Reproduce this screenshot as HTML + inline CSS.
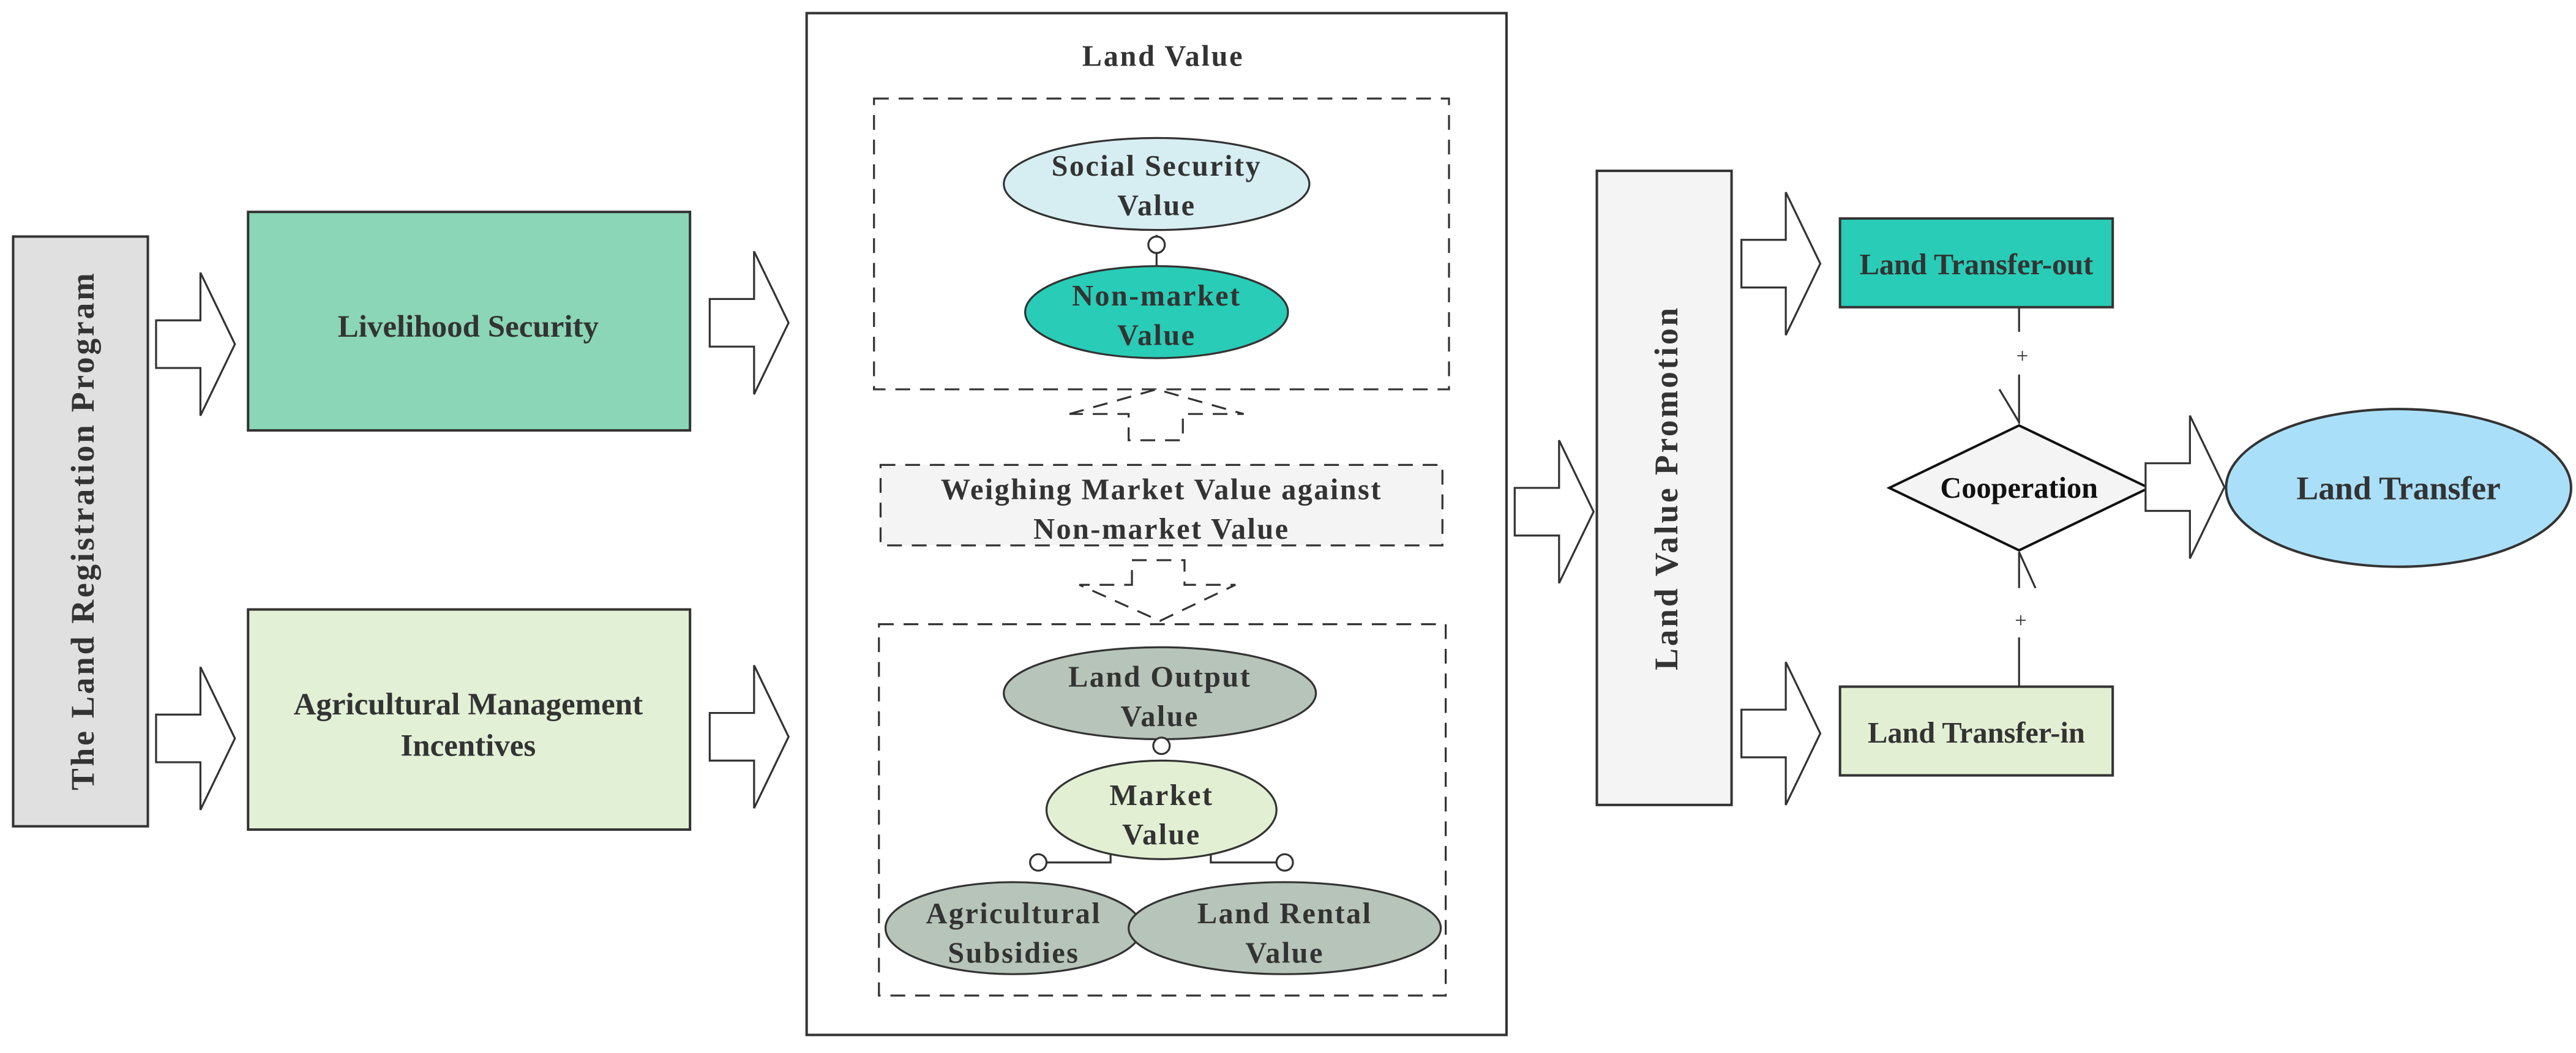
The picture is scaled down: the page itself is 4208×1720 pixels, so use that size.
<!DOCTYPE html>
<html><head><style>html,body{margin:0;padding:0;background:#fff}svg{display:block}</style></head>
<body>
<svg width="4208" height="1720" viewBox="0 0 1568 641" preserveAspectRatio="none" xmlns="http://www.w3.org/2000/svg" font-family="'Liberation Serif', serif" font-weight="bold" fill="#333">
<defs>
<g id="arr"><path d="M0,29 H27 V0 L48,43.5 L27,87 V58 H0 Z" fill="#fff" stroke="#333" stroke-width="1.2"/></g>
</defs>
<rect width="1568" height="641" fill="#fff"/>
<rect x="8" y="144" width="82" height="359" fill="#e0e0e0" stroke="#333" stroke-width="1.5"/>
<text transform="translate(57,323) rotate(-90)" text-anchor="middle" font-size="20" letter-spacing="1.4" fill="#333">The Land  Registration Program</text>
<use href="#arr" x="95" y="166"/>
<use href="#arr" x="95" y="406"/>
<rect x="151" y="129" width="269" height="133" fill="#8ad6b6" stroke="#333" stroke-width="1.5"/>
<text x="285" y="205" text-anchor="middle" font-size="19">Livelihood Security</text>
<rect x="151" y="371" width="269" height="134" fill="#e2f0d6" stroke="#333" stroke-width="1.5"/>
<text x="285" y="435" text-anchor="middle" font-size="19">Agricultural Management</text>
<text x="285" y="460" text-anchor="middle" font-size="19">Incentives</text>
<use href="#arr" x="432" y="153"/>
<use href="#arr" x="432" y="405"/>
<rect x="491" y="8" width="426" height="622" fill="#fff" stroke="#333" stroke-width="1.5"/>
<text x="708" y="40" text-anchor="middle" font-size="18" letter-spacing="1">Land Value</text>
<rect x="532" y="60" width="350" height="177" fill="none" stroke="#333" stroke-width="1.2" stroke-dasharray="9,6"/>
<ellipse cx="704" cy="112" rx="93" ry="28" fill="#d6eef2" stroke="#333" stroke-width="1.2"/>
<text x="704" y="107" text-anchor="middle" font-size="18" letter-spacing="0.9">Social Security</text>
<text x="704" y="131" text-anchor="middle" font-size="18" letter-spacing="0.9">Value</text>
<line x1="704" y1="143" x2="704" y2="162" stroke="#333" stroke-width="1.2"/>
<circle cx="704" cy="149" r="5" fill="#fff" stroke="#333" stroke-width="1.2"/>
<ellipse cx="704" cy="190" rx="80" ry="28" fill="#29ccb6" stroke="#333" stroke-width="1.2"/>
<text x="704" y="186" text-anchor="middle" font-size="18" letter-spacing="0.9">Non-market</text>
<text x="704" y="210" text-anchor="middle" font-size="18" letter-spacing="0.9">Value</text>
<path d="M651,252 L704,237 L757,252 H720 V268 H687 V252 Z" fill="#fff" stroke="#333" stroke-width="1.2" stroke-dasharray="9,6"/>
<rect x="536" y="283" width="342" height="49" fill="#f4f4f4" stroke="#333" stroke-width="1.2" stroke-dasharray="9,6"/>
<text x="707" y="304" text-anchor="middle" font-size="18" letter-spacing="0.9">Weighing Market Value against</text>
<text x="707" y="328" text-anchor="middle" font-size="18" letter-spacing="0.9">Non-market Value</text>
<path d="M689,356 V341 H721 V356 H752 L706,378 L657,356 Z" fill="#fff" stroke="#333" stroke-width="1.2" stroke-dasharray="9,6"/>
<rect x="535" y="380" width="345" height="226" fill="none" stroke="#333" stroke-width="1.2" stroke-dasharray="9,6"/>
<ellipse cx="706" cy="422" rx="95" ry="28" fill="#b7c4b9" stroke="#333" stroke-width="1.2"/>
<text x="706" y="418" text-anchor="middle" font-size="18" letter-spacing="0.9">Land Output</text>
<text x="706" y="442" text-anchor="middle" font-size="18" letter-spacing="0.9">Value</text>
<circle cx="707" cy="454" r="5" fill="#fff" stroke="#333" stroke-width="1.2"/>
<polyline points="676,518 676,525 637,525" fill="none" stroke="#333" stroke-width="1.2"/>
<polyline points="737,518 737,525 777,525" fill="none" stroke="#333" stroke-width="1.2"/>
<ellipse cx="707" cy="493" rx="70" ry="30" fill="#e2efd3" stroke="#333" stroke-width="1.2"/>
<text x="707" y="490" text-anchor="middle" font-size="18" letter-spacing="0.9">Market</text>
<text x="707" y="514" text-anchor="middle" font-size="18" letter-spacing="0.9">Value</text>
<circle cx="632" cy="525" r="5" fill="#fff" stroke="#333" stroke-width="1.2"/>
<circle cx="782" cy="525" r="5" fill="#fff" stroke="#333" stroke-width="1.2"/>
<ellipse cx="617" cy="565" rx="78" ry="28" fill="#b7c4b9" stroke="#333" stroke-width="1.2"/>
<ellipse cx="782" cy="565" rx="95" ry="28" fill="#b7c4b9" stroke="#333" stroke-width="1.2"/>
<text x="617" y="562" text-anchor="middle" font-size="18" letter-spacing="0.9">Agricultural</text>
<text x="617" y="586" text-anchor="middle" font-size="18" letter-spacing="0.9">Subsidies</text>
<text x="782" y="562" text-anchor="middle" font-size="18" letter-spacing="0.9">Land Rental</text>
<text x="782" y="586" text-anchor="middle" font-size="18" letter-spacing="0.9">Value</text>
<use href="#arr" x="922" y="268"/>
<rect x="972" y="104" width="82" height="386" fill="#f4f4f4" stroke="#333" stroke-width="1.5"/>
<text transform="translate(1021,297) rotate(-90)" text-anchor="middle" font-size="20" letter-spacing="1.4">Land Value Promotion</text>
<use href="#arr" x="1060" y="117"/>
<use href="#arr" x="1060" y="403"/>
<rect x="1120" y="133" width="166" height="54" fill="#29ccb6" stroke="#333" stroke-width="1.5"/>
<text x="1203" y="167" text-anchor="middle" font-size="18">Land Transfer-out</text>
<rect x="1120" y="418" width="166" height="54" fill="#e2efd3" stroke="#333" stroke-width="1.5"/>
<text x="1203" y="452" text-anchor="middle" font-size="18">Land Transfer-in</text>
<line x1="1229" y1="187" x2="1229" y2="202" stroke="#333" stroke-width="1.2"/>
<text x="1231" y="221" text-anchor="middle" font-size="13" font-weight="normal">+</text>
<line x1="1229" y1="228" x2="1229" y2="258" stroke="#333" stroke-width="1.2"/>
<line x1="1217" y1="237" x2="1229" y2="257" stroke="#333" stroke-width="1.2"/>
<line x1="1229" y1="336" x2="1229" y2="358" stroke="#333" stroke-width="1.2"/>
<line x1="1229" y1="336" x2="1239" y2="358" stroke="#333" stroke-width="1.2"/>
<text x="1230" y="382" text-anchor="middle" font-size="13" font-weight="normal">+</text>
<line x1="1229" y1="388" x2="1229" y2="418" stroke="#333" stroke-width="1.2"/>
<polygon points="1150,297 1229,259 1308,297 1229,335" fill="#f4f4f4" stroke="#111" stroke-width="1.5"/>
<text x="1229" y="303" text-anchor="middle" font-size="18" fill="#111">Cooperation</text>
<use href="#arr" x="1306" y="253"/>
<ellipse cx="1460" cy="297" rx="105" ry="48" fill="#aadff9" stroke="#333" stroke-width="1.5"/>
<text x="1460" y="304" text-anchor="middle" font-size="20">Land Transfer</text>
</svg>
</body></html>
